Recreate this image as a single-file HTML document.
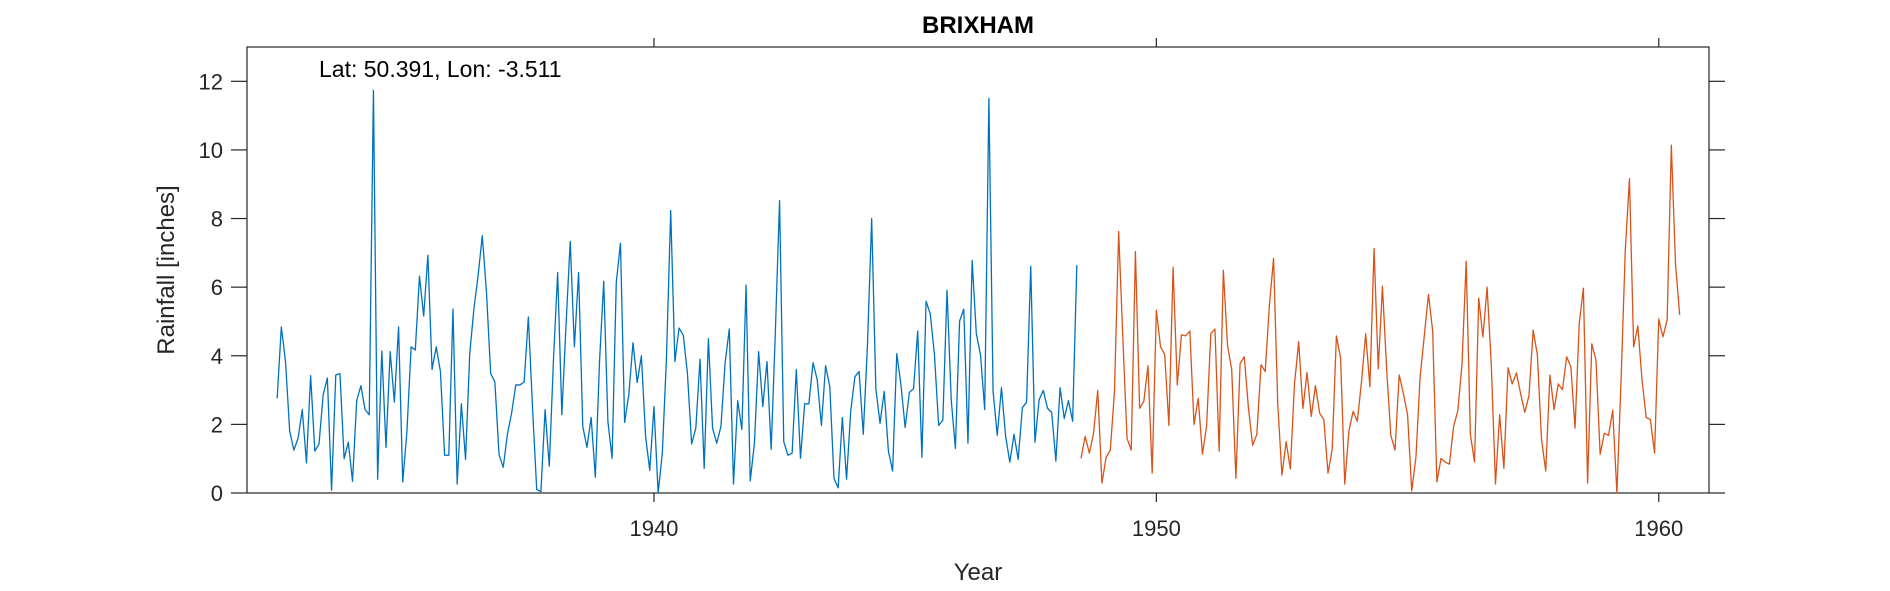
<!DOCTYPE html>
<html><head><meta charset="utf-8"><style>
html,body{margin:0;padding:0;background:#fff;}
svg{display:block;font-family:"Liberation Sans",Arial,sans-serif;}
</style></head><body>
<svg id="chart" width="1890" height="591" viewBox="0 0 1890 591"></svg>
<script>
const blueValues = [2.76,4.84,3.83,1.80,1.25,1.6,2.43,0.88,3.42,1.22,1.43,2.87,3.35,0.08,3.44,3.48,1.0,1.48,0.34,2.69,3.13,2.43,2.28,11.74,0.4,4.14,1.33,4.12,2.65,4.84,0.32,1.8,4.26,4.17,6.32,5.16,6.93,3.6,4.26,3.54,1.1,1.1,5.36,0.26,
2.6,0.98,4.06,5.37,6.34,7.5,5.85,3.48,3.24,1.12,0.75,1.71,2.33,3.15,3.15,3.24,5.13,2.47,0.1,0.04,2.43,0.78,3.88,6.43,2.28,4.9,7.33,4.26,6.43,1.94,1.33,2.2,0.46,3.83,6.17,2.09,1.01,6.14,7.28,2.06,2.87,4.38,3.22,4.0,
1.65,0.66,2.52,0.0,1.16,3.97,8.23,3.83,4.81,4.6,3.48,1.43,1.89,3.9,0.72,4.5,1.89,1.45,1.94,3.8,4.78,0.26,2.69,1.85,6.06,0.35,1.45,4.12,2.52,3.83,1.27,4.7,8.52,1.5,1.1,1.16,3.6,1.01,2.6,2.6,3.8,3.3,1.97,3.71,3.1,
0.43,0.15,2.2,0.4,2.38,3.39,3.54,1.71,4.32,8.0,3.04,2.03,2.96,1.22,0.64,4.06,3.15,1.91,2.93,3.04,4.72,1.04,5.59,5.22,4.03,1.97,2.12,5.91,2.72,1.3,5.01,5.36,1.45,6.78,4.64,4.03,2.43,11.5,2.96,1.68,3.07,1.65,0.9,1.71,0.98,
2.49,2.64,6.61,1.48,2.72,2.99,2.47,2.35,0.93,3.07,2.17,2.69,2.09,6.64];
const blueStart = 1932.5;
const orangeValues = [1.01,1.65,1.16,1.74,2.99,0.29,1.04,1.25,2.96,7.62,4.5,1.59,1.25,7.04,2.47,2.67,3.71,0.58,5.33,4.26,4.03,1.97,6.58,3.15,4.61,4.58,4.72,2.0,2.76,1.13,1.94,
4.64,4.78,1.22,6.49,4.29,3.6,0.43,3.77,3.97,2.47,1.39,1.71,3.74,3.54,5.48,6.84,2.58,0.52,1.5,0.7,3.19,4.41,2.46,3.51,2.23,3.13,2.33,2.14,0.58,1.27,4.58,3.94,0.26,1.82,2.38,2.09,3.24,4.64,3.1,7.13,3.62,6.03,3.62,1.68,1.25,
3.44,2.9,2.28,0.06,1.04,3.39,4.58,5.79,4.72,0.32,1.01,0.9,0.84,1.94,2.4,3.74,6.75,1.71,0.9,5.68,4.55,6.0,3.74,0.26,2.28,0.72,3.65,3.18,3.5,2.9,2.35,2.84,4.75,4.03,1.56,0.64,3.44,2.43,3.18,3.01,3.97,3.68,1.89,4.93,5.97,
0.29,4.35,3.88,1.13,1.74,1.68,2.41,0.0,3.3,7.07,9.16,4.26,4.87,3.3,2.2,2.14,1.16,5.07,4.55,5.04,10.14,6.67,5.19];
const orangeStart = 1948.5;
const yTicks = [0,2,4,6,8,10,12];
const xTicks = [1940,1950,1960];

const NS = "http://www.w3.org/2000/svg";
const svg = document.getElementById('chart');
const L = 247, R = 1709, T = 47, B = 493;
const xMin = 1931.9, xMax = 1961.0, yMin = 0, yMax = 13;
function xs(v){ return L + (v - xMin) / (xMax - xMin) * (R - L); }
function ys(v){ return B - (v - yMin) / (yMax - yMin) * (B - T); }
function mk(tag, attrs){ const e = document.createElementNS(NS, tag); for (const k in attrs) e.setAttribute(k, attrs[k]); svg.appendChild(e); return e; }

const box = mk('rect', {x:L, y:T, width:R-L, height:B-T, fill:'none', stroke:'#262626', 'stroke-width':1.2});



yTicks.forEach(v => {
  const y = ys(v);
  const t1 = mk('line', {x1:L-16, x2:L, y1:y, y2:y, stroke:'#262626', 'stroke-width':1.2});
  
  
  const t2 = mk('line', {x1:R, x2:R+16, y1:y, y2:y, stroke:'#262626', 'stroke-width':1.2});
  
  
  const lb = mk('text', {x:L-24, y:y+8, 'text-anchor':'end', 'font-size':22, fill:'#262626'});
  lb.textContent = v;
  
  
});
xTicks.forEach(v => {
  const x = xs(v);
  const t1 = mk('line', {x1:x, x2:x, y1:B, y2:B+9, stroke:'#262626', 'stroke-width':1.2});
  
  
  const t2 = mk('line', {x1:x, x2:x, y1:T-9, y2:T, stroke:'#262626', 'stroke-width':1.2});
  
  
  const lb = mk('text', {x:x, y:B+43, 'text-anchor':'middle', 'font-size':22, fill:'#262626'});
  lb.textContent = v;
  
  
});

function series(vals, start, color, name){
  const pts = vals.map((v,i) => xs(start + i/12).toFixed(2) + ',' + ys(v).toFixed(2)).join(' ');
  const p = mk('polyline', {points:pts, fill:'none', stroke:color, 'stroke-width':1.3, 'stroke-linejoin':'round'});
  
  
}
series(blueValues, blueStart, '#0072BD', 'rainfall-line-early');
series(orangeValues, orangeStart, '#D95319', 'rainfall-line-late');

const title = mk('text', {x:(L+R)/2, y:33, 'text-anchor':'middle', 'font-size':24, 'font-weight':'bold', fill:'#000'});
title.textContent = 'BRIXHAM';



const ann = mk('text', {x:319, y:77, 'font-size':23, fill:'#000'});
ann.textContent = 'Lat: 50.391, Lon: -3.511';



const xt = mk('text', {x:(L+R)/2, y:580, 'text-anchor':'middle', 'font-size':24, fill:'#262626'});
xt.textContent = 'Year';



const yt = mk('text', {x:0, y:0, 'text-anchor':'middle', 'font-size':24, fill:'#262626', transform:'translate(174,270) rotate(-90)'});
yt.textContent = 'Rainfall [inches]';


</script>
</body></html>
